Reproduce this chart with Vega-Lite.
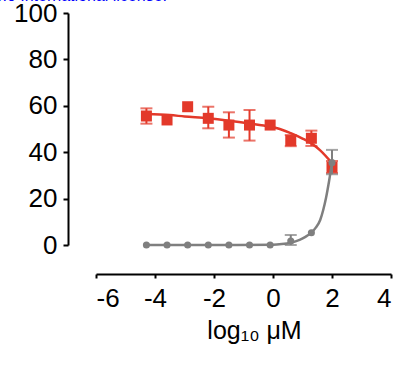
{
  "$schema": "https://vega.github.io/schema/vega-lite/v6.json",
  "width": 295,
  "height": 232,
  "autosize": {"type": "none"},
  "padding": {"left": 96, "top": 13, "right": 12, "bottom": 122},
  "background": "white",
  "config": {
    "view": {"stroke": null},
    "font": "Liberation Sans",
    "axis": {"grid": false, "domainColor": "black", "domainWidth": 2, "tickColor": "black", "tickWidth": 2, "labelColor": "black", "titleColor": "black", "labelFont": "Liberation Sans", "titleFont": "Liberation Sans", "labelFontSize": 26, "titleFontSize": 25, "titleFontWeight": "normal"}
  },
  "title": {"text": "available under aCC-BY 4.0 International license.", "frame": "group", "anchor": "start", "align": "right", "dx": 71, "offset": -17, "baseline": "alphabetic", "fontSize": 16, "fontWeight": "normal", "color": "#0000ff", "font": "Liberation Sans"},
  "datasets": {
    "points": [
      {"series": "A", "x": -4.291, "y": 55.6, "lo": 52.3, "hi": 58.9},
      {"series": "A", "x": -3.592, "y": 53.9, "lo": null, "hi": null},
      {"series": "A", "x": -2.893, "y": 59.6, "lo": null, "hi": null},
      {"series": "A", "x": -2.194, "y": 54.6, "lo": 50.3, "hi": 59.6},
      {"series": "A", "x": -1.495, "y": 51.7, "lo": 46.3, "hi": 57.2},
      {"series": "A", "x": -0.796, "y": 51.7, "lo": 45.0, "hi": 58.2},
      {"series": "A", "x": -0.097, "y": 51.7, "lo": null, "hi": null},
      {"series": "A", "x": 0.602, "y": 45.0, "lo": 42.6, "hi": 47.4},
      {"series": "A", "x": 1.301, "y": 46.0, "lo": 42.7, "hi": 49.3},
      {"series": "A", "x": 2.0, "y": 33.5, "lo": 31.0, "hi": 36.2},
      {"series": "B", "x": -4.291, "y": 0, "lo": null, "hi": null},
      {"series": "B", "x": -3.592, "y": 0, "lo": null, "hi": null},
      {"series": "B", "x": -2.893, "y": 0, "lo": null, "hi": null},
      {"series": "B", "x": -2.194, "y": 0, "lo": null, "hi": null},
      {"series": "B", "x": -1.495, "y": 0, "lo": null, "hi": null},
      {"series": "B", "x": -0.796, "y": 0, "lo": null, "hi": null},
      {"series": "B", "x": -0.097, "y": 0, "lo": null, "hi": null},
      {"series": "B", "x": 0.602, "y": 1.7, "lo": 0, "hi": 4.3},
      {"series": "B", "x": 1.301, "y": 5.3, "lo": null, "hi": null},
      {"series": "B", "x": 2.0, "y": 35.5, "lo": 30.5, "hi": 41.0}
    ],
    "curves": [
      {"series": "A", "x": -4.291, "y": 56.5},
      {"series": "A", "x": -3.5, "y": 56.0},
      {"series": "A", "x": -3.0, "y": 55.4},
      {"series": "A", "x": -2.2, "y": 54.6},
      {"series": "A", "x": -1.5, "y": 53.6},
      {"series": "A", "x": -0.8, "y": 52.4},
      {"series": "A", "x": -0.1, "y": 51.0},
      {"series": "A", "x": 0.3, "y": 49.7},
      {"series": "A", "x": 0.6, "y": 48.2},
      {"series": "A", "x": 1.0, "y": 45.9},
      {"series": "A", "x": 1.3, "y": 43.8},
      {"series": "A", "x": 1.6, "y": 40.8},
      {"series": "A", "x": 2.0, "y": 35.3},
      {"series": "B", "x": -4.291, "y": 0},
      {"series": "B", "x": -2.0, "y": 0},
      {"series": "B", "x": 0.0, "y": 0.1},
      {"series": "B", "x": 0.3, "y": 0.4},
      {"series": "B", "x": 0.6, "y": 1.0},
      {"series": "B", "x": 0.9, "y": 2.2},
      {"series": "B", "x": 1.1, "y": 3.5},
      {"series": "B", "x": 1.3, "y": 5.3},
      {"series": "B", "x": 1.45, "y": 7.5},
      {"series": "B", "x": 1.6, "y": 10.8},
      {"series": "B", "x": 1.7, "y": 15.0},
      {"series": "B", "x": 1.8, "y": 20.5},
      {"series": "B", "x": 1.9, "y": 27.5},
      {"series": "B", "x": 2.0, "y": 35.5}
    ]
  },
  "encoding": {
    "x": {"field": "x", "type": "quantitative", "scale": {"domain": [-6, 4], "nice": false, "zero": false},
      "axis": {"values": [-6, -4, -2, 0, 2, 4], "labelExpr": "'' + datum.value", "offset": 29, "tickSize": 4, "labelPadding": 7, "title": "log₁₀ μM", "titlePadding": 7, "titleX": 158}},
    "y": {"field": "y", "type": "quantitative", "scale": {"domain": [0, 100], "nice": false},
      "axis": {"values": [0, 20, 40, 60, 80, 100], "offset": 28, "tickSize": 5, "labelPadding": 6, "title": null}},
    "color": {"field": "series", "type": "nominal", "scale": {"domain": ["A", "B"], "range": ["#e3392a", "#7f7f7f"]}, "legend": null}
  },
  "layer": [
    {"data": {"name": "curves"}, "transform": [{"filter": "datum.series === 'A'"}], "mark": {"type": "line", "strokeWidth": 2.5, "interpolate": "monotone"}},
    {"data": {"name": "points"}, "transform": [{"filter": "datum.series === 'A' && datum.lo != null"}], "mark": {"type": "rule", "strokeWidth": 2}, "encoding": {"y": {"field": "lo", "type": "quantitative"}, "y2": {"field": "hi"}}},
    {"data": {"name": "points"}, "transform": [{"filter": "datum.series === 'A' && datum.lo != null"}], "mark": {"type": "tick", "orient": "horizontal", "size": 12, "thickness": 2}, "encoding": {"y": {"field": "lo", "type": "quantitative"}}},
    {"data": {"name": "points"}, "transform": [{"filter": "datum.series === 'A' && datum.lo != null"}], "mark": {"type": "tick", "orient": "horizontal", "size": 12, "thickness": 2}, "encoding": {"y": {"field": "hi", "type": "quantitative"}}},
    {"data": {"name": "points"}, "transform": [{"filter": "datum.series === 'A'"}], "mark": {"type": "square", "size": 121, "opacity": 1, "filled": true}},
    {"data": {"name": "curves"}, "transform": [{"filter": "datum.series === 'B'"}], "mark": {"type": "line", "strokeWidth": 2.5, "interpolate": "monotone"}},
    {"data": {"name": "points"}, "transform": [{"filter": "datum.series === 'B' && datum.lo != null"}], "mark": {"type": "rule", "strokeWidth": 2}, "encoding": {"y": {"field": "lo", "type": "quantitative"}, "y2": {"field": "hi"}}},
    {"data": {"name": "points"}, "transform": [{"filter": "datum.series === 'B' && datum.lo != null"}], "mark": {"type": "tick", "orient": "horizontal", "size": 12, "thickness": 2}, "encoding": {"y": {"field": "lo", "type": "quantitative"}}},
    {"data": {"name": "points"}, "transform": [{"filter": "datum.series === 'B' && datum.lo != null"}], "mark": {"type": "tick", "orient": "horizontal", "size": 12, "thickness": 2}, "encoding": {"y": {"field": "hi", "type": "quantitative"}}},
    {"data": {"name": "points"}, "transform": [{"filter": "datum.series === 'B'"}], "mark": {"type": "circle", "size": 50, "opacity": 1}}
  ]
}
